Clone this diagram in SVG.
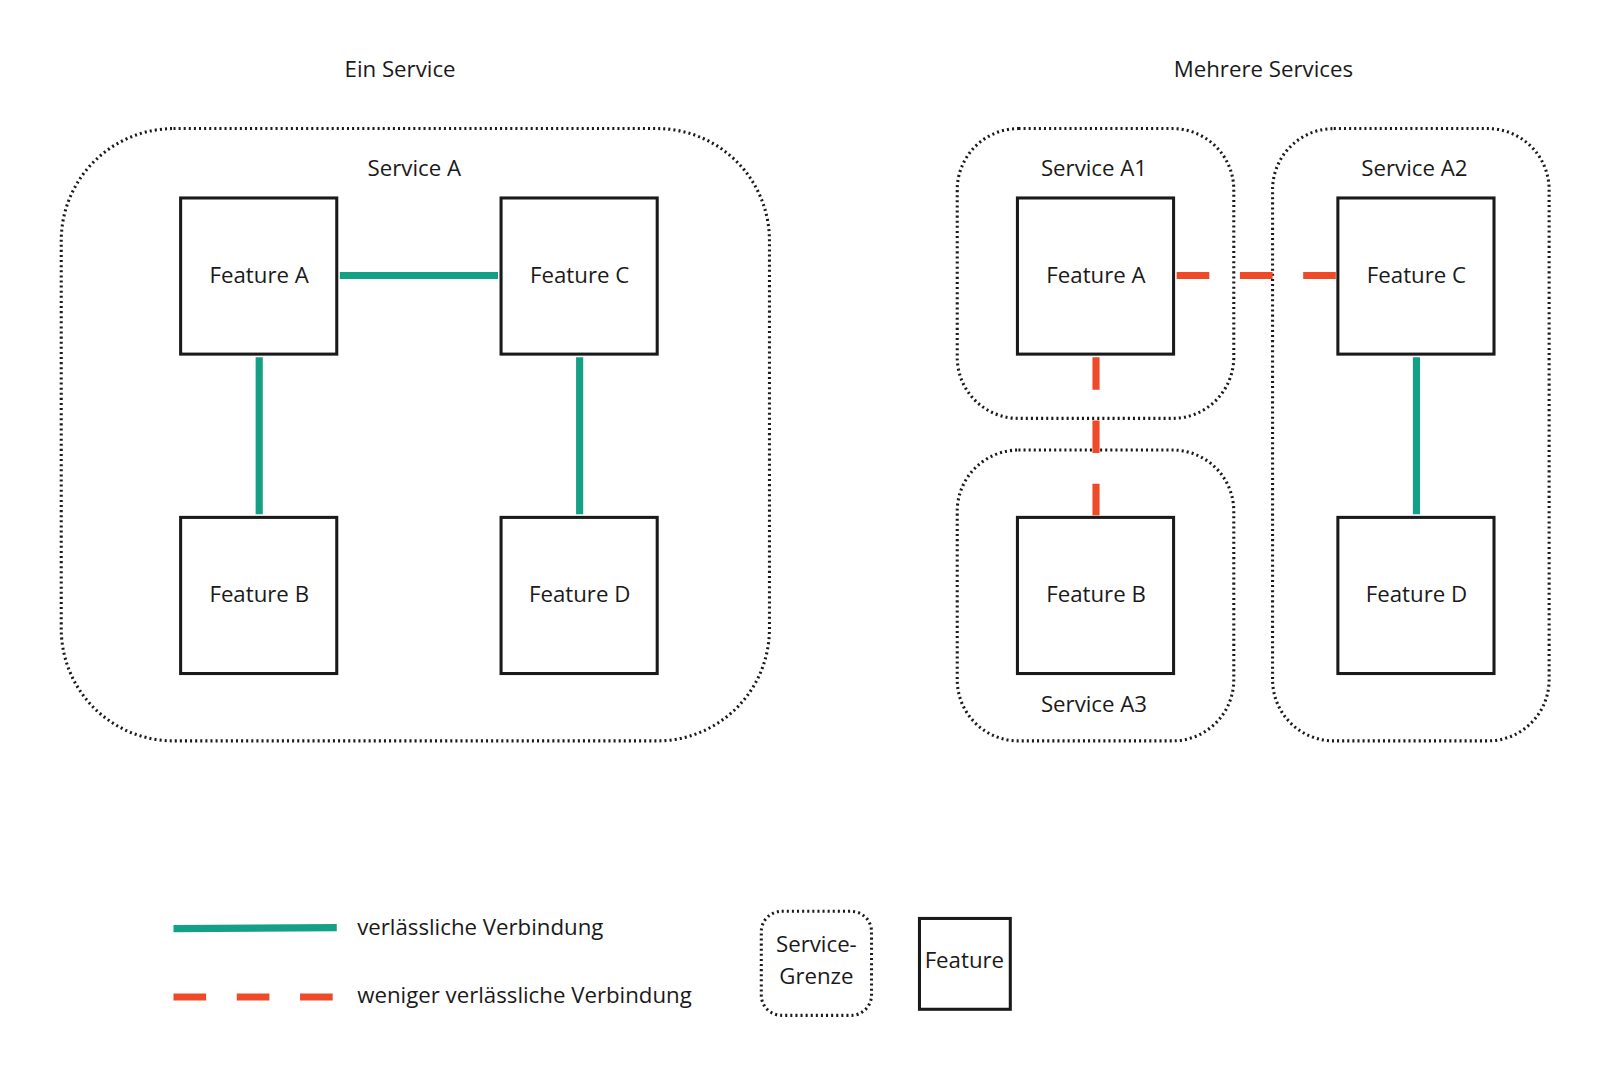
<svg xmlns="http://www.w3.org/2000/svg" width="1600" height="1080" viewBox="0 0 1600 1080">
<style>
text{font-family:"Open Sans","Noto Sans",sans-serif;font-size:21.8px;fill:#1a1a1a;text-anchor:middle}
.svc{fill:none;stroke:#1a1a1a;stroke-width:3;stroke-dasharray:2 3}
.feat{fill:#fff;stroke:#1a1a1a;stroke-width:3}
.ok{stroke:#13a085;stroke-width:7;fill:none}
.weak{stroke:#ee4a2a;stroke-width:7;fill:none;stroke-dasharray:32 30}
</style>
<rect width="1600" height="1080" fill="#fff"/>
<g transform="scale(1.0205)">
<text x="392" y="75">Ein Service</text>
<text x="1238" y="75">Mehrere Services</text>
<g id="serviceA"><rect class="svc" x="60" y="126" width="694" height="600" rx="110"/><text x="406" y="172">Service A</text></g>
<g id="serviceA1"><rect class="svc" x="938" y="126" width="271" height="284" rx="60"/><text x="1072" y="172">Service A1</text></g>
<g id="serviceA3"><rect class="svc" x="938" y="441" width="271" height="285" rx="60"/><text x="1072" y="698">Service A3</text></g>
<g id="serviceA2"><rect class="svc" x="1247" y="126" width="271" height="600" rx="60"/><text x="1386" y="172">Service A2</text></g>
<g id="connectors">
<line class="ok" x1="333" y1="270" x2="488" y2="270"/>
<line class="ok" x1="254" y1="350" x2="254" y2="504"/>
<line class="ok" x1="568" y1="350" x2="568" y2="504"/>
<line class="weak" x1="1153" y1="270" x2="1309" y2="270"/>
<line class="weak" x1="1074" y1="350" x2="1074" y2="505"/>
<line class="ok" x1="1388" y1="350" x2="1388" y2="504"/>
</g>
<g id="l_fA"><rect class="feat" x="177" y="194" width="153" height="153"/><text x="254" y="277">Feature A</text></g>
<g id="l_fC"><rect class="feat" x="491" y="194" width="153" height="153"/><text x="568" y="277">Feature C</text></g>
<g id="l_fB"><rect class="feat" x="177" y="507" width="153" height="153"/><text x="254" y="590">Feature B</text></g>
<g id="l_fD"><rect class="feat" x="491" y="507" width="153" height="153"/><text x="568" y="590">Feature D</text></g>
<g id="r_fA"><rect class="feat" x="997" y="194" width="153" height="153"/><text x="1074" y="277">Feature A</text></g>
<g id="r_fC"><rect class="feat" x="1311" y="194" width="153" height="153"/><text x="1388" y="277">Feature C</text></g>
<g id="r_fB"><rect class="feat" x="997" y="507" width="153" height="153"/><text x="1074" y="590">Feature B</text></g>
<g id="r_fD"><rect class="feat" x="1311" y="507" width="153" height="153"/><text x="1388" y="590">Feature D</text></g>
<g id="legend">
<line class="ok" x1="170" y1="910" x2="330" y2="909"/>
<text x="350" y="916" style="text-anchor:start">verlässliche Verbindung</text>
<line class="weak" x1="170" y1="977" x2="326" y2="977"/>
<text x="350" y="983" style="text-anchor:start">weniger verlässliche Verbindung</text>
<rect class="svc" x="746" y="893" width="108" height="102" rx="20"/>
<text x="800" y="933">Service-</text><text x="800" y="964">Grenze</text>
<rect class="feat" x="901" y="900" width="89" height="89"/>
<text x="945" y="949">Feature</text>
</g>
</g>
</svg>
